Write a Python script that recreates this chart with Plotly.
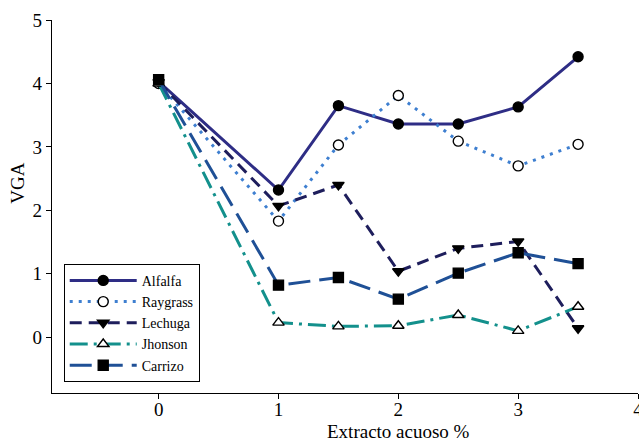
import plotly.graph_objects as go

x_vals = [0, 1, 1.5, 2, 2.5, 3, 3.5]
alfalfa = [4.03, 2.32, 3.65, 3.36, 3.36, 3.63, 4.42]
raygrass = [4.00, 1.83, 3.03, 3.81, 3.09, 2.70, 3.04]
lechuga = [4.02, 2.07, 2.40, 1.04, 1.40, 1.51, 0.14]
jhonson = [4.00, 0.23, 0.17, 0.18, 0.35, 0.10, 0.48]
carrizo = [4.06, 0.82, 0.94, 0.60, 1.01, 1.33, 1.16]

series = [
    ("Alfalfa", alfalfa, "#2E2D85", "solid", "circle", "black"),
    ("Raygrass", raygrass, "#3E7FD0", "3px,6px", "circle", "white"),
    ("Lechuga", lechuga, "#1E1E5C", "12px,7px", "triangle-down", "black"),
    ("Jhonson", jhonson, "#13908C", "18px,6px,3px,6px", "triangle-up", "white"),
    ("Carrizo", carrizo, "#1F5096", "22px,9px", "square", "black"),
]

fig = go.Figure()
for name, ys, color, dash, sym, fill in series:
    fig.add_trace(go.Scatter(
        x=x_vals, y=ys, name=name, mode="lines+markers",
        line=dict(color=color, width=3, dash=dash),
        marker=dict(symbol=sym, size=10, color=fill,
                    line=dict(color="black", width=1.4)),
    ))

font = "Liberation Serif"
fig.update_layout(
    template="none",
    width=639, height=443,
    margin=dict(l=52, r=1, t=20, b=50, pad=0),
    paper_bgcolor="white", plot_bgcolor="white",
    font=dict(family=font, size=19, color="black"),
    showlegend=True,
    legend=dict(x=0.02, y=0.03, xanchor="left", yanchor="bottom",
                bordercolor="black", borderwidth=1, bgcolor="white",
                font=dict(family=font, size=14, color="black"),
                tracegroupgap=0, itemwidth=67),
    xaxis=dict(range=[-0.89, 4], tickvals=[0, 1, 2, 3, 4], automargin=False,
               showline=True, linecolor="black", linewidth=1.3,
               ticks="outside", ticklen=5, tickcolor="black", tickwidth=1.3,
               ticklabeloverflow="allow", ticklabelstandoff=-6,
               showgrid=False, zeroline=False),
    yaxis=dict(range=[-0.88, 5], tickvals=[0, 1, 2, 3, 4, 5], automargin=False,
               showline=True, linecolor="black", linewidth=1.3,
               ticks="outside", ticklen=5, tickcolor="black", tickwidth=1.3,
               showgrid=False, zeroline=False),
    annotations=[
        dict(text="Extracto acuoso %", x=2, y=0, xref="x", yref="paper",
             yshift=-50, showarrow=False, yanchor="bottom", borderpad=0,
             font=dict(family=font, size=19)),
        dict(text="VGA", x=0, xref="paper", xshift=-34, xanchor="center",
             y=2.42, yref="y", yanchor="middle",
             showarrow=False, textangle=-90, font=dict(family=font, size=19)),
    ],
)

fig.write_html("out.html", config={"displayModeBar": False},
               post_script="document.body.style.margin='0';document.body.style.padding='0';"
                           "document.body.style.overflow='hidden';"
                           "document.documentElement.style.overflow='hidden';")
